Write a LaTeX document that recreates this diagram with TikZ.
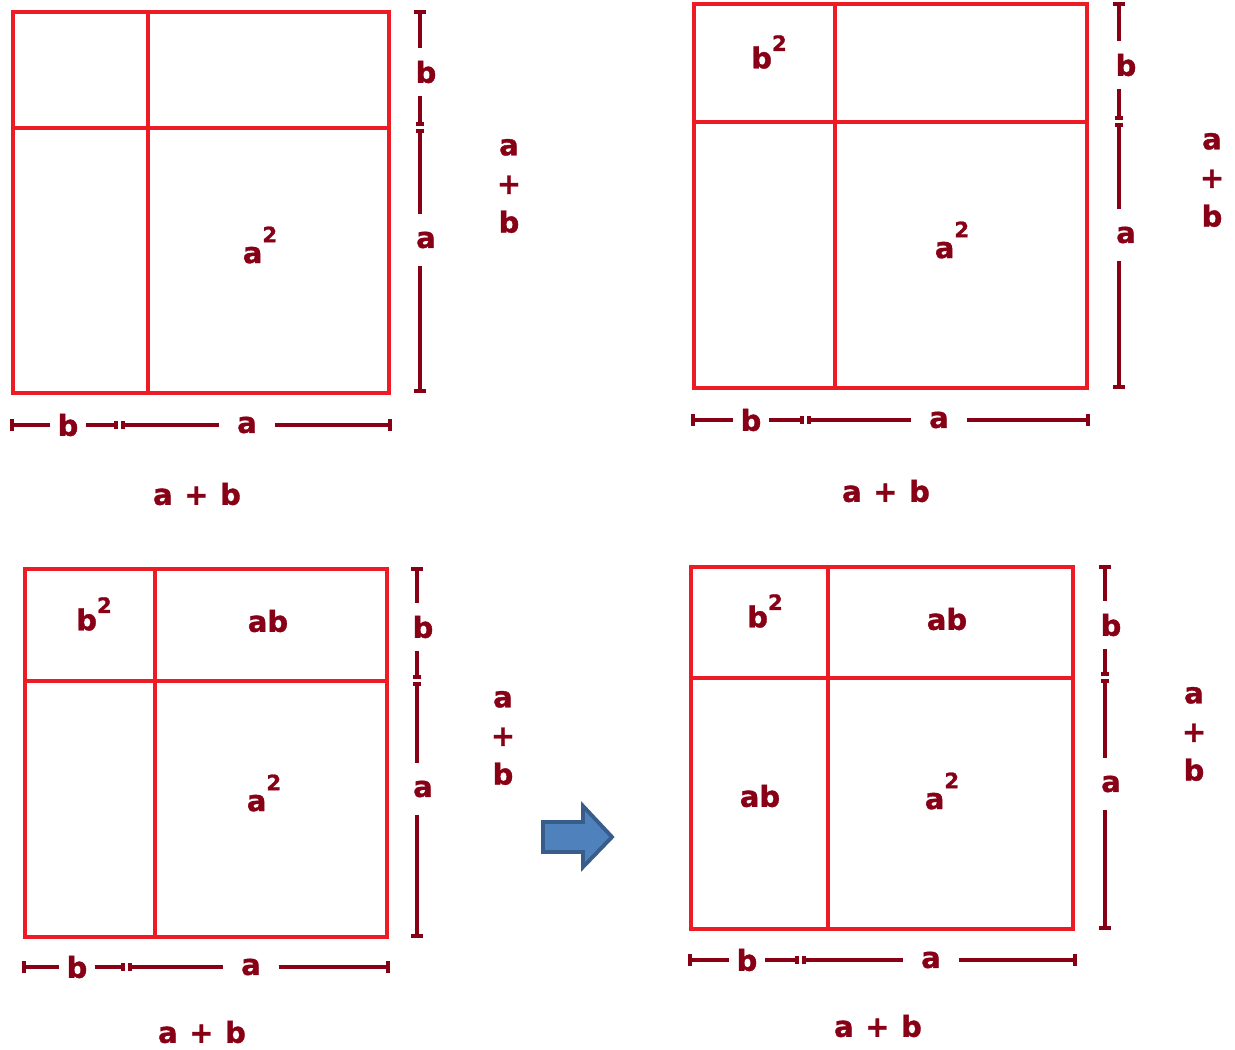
\documentclass[tikz,border=0pt]{standalone}
\usepackage{fontspec}
\setmainfont{DejaVu Sans}[BoldFeatures={FakeBold=1.2}]
\usetikzlibrary{arrows.meta}
\definecolor{sqred}{HTML}{ED1C24}
\definecolor{lblred}{HTML}{880015}
\definecolor{arrfill}{HTML}{4F81BD}
\definecolor{arrdraw}{HTML}{385D8A}
\newcommand{\lblfont}{\fontsize{16.5}{22}\selectfont\bfseries}
\newcommand{\sqlab}[2]{#1\raisebox{#2}{\fontsize{12}{12}\selectfont 2}}
\newcommand{\sumgap}{\hspace{0.4em}}
\tikzset{
  sqline/.style={draw=sqred, line width=2.2pt},
  dimline/.style={draw=lblred, line width=2pt},
  lbl/.style={text=lblred, font=\lblfont, inner sep=4pt, align=center},
  endcap/.tip={Bar[width=7pt]},
  midcap/.tip={Bar[width=5pt]}
}

\begin{document}
\begin{tikzpicture}[x=0.02cm, y=-0.02cm]
\useasboundingbox (0,0) rectangle (1235,1050);

% panel 1 (top left)
\draw[sqline] (13,12) rectangle (389,393);
\draw[sqline] (148,12) -- (148,393);
\draw[sqline] (13,128) -- (389,128);
\node[lbl] (p1aa) at (260,245) {\sqlab{a}{0.72em}};
\coordinate (p1rt) at (420,10);
\coordinate (p1rm1) at (420,126);
\coordinate (p1rm2) at (420,129);
\coordinate (p1rb) at (420,393);
\node[lbl, inner ysep=7pt] (p1rlb) at (426,72) {b};
\node[lbl, inner ysep=10pt] (p1rla) at (426,240) {a};
\draw[dimline, endcap-] (p1rt) -- (p1rt |- p1rlb.north);
\draw[dimline, -midcap] (p1rt |- p1rlb.south) -- (p1rm1);
\draw[dimline, midcap-] (p1rm2) -- (p1rt |- p1rla.north);
\draw[dimline, -endcap] (p1rt |- p1rla.south) -- (p1rb);
\coordinate (p1bl) at (10,425);
\coordinate (p1bm1) at (118,425);
\coordinate (p1bm2) at (121,425);
\coordinate (p1br) at (392,425);
\node[lbl] (p1blb) at (68,425) {b};
\node[lbl, inner xsep=10pt] (p1bla) at (247,425) {a};
\draw[dimline, endcap-] (p1bl) -- (p1blb);
\draw[dimline, -midcap] (p1blb) -- (p1bm1);
\draw[dimline, midcap-] (p1bm2) -- (p1bla);
\draw[dimline, -endcap] (p1bla) -- (p1br);
\node[lbl] (p1sum) at (197,494) {a\sumgap+\sumgap b};
\node[lbl] (p1side) at (509,186) {a\\+\\b};

% panel 2 (top right)
\draw[sqline] (694,4) rectangle (1087,388);
\draw[sqline] (835,4) -- (835,388);
\draw[sqline] (694,122) -- (1087,122);
\node[lbl] (p2bb) at (769,52) {\sqlab{b}{0.6em}};
\node[lbl] (p2aa) at (952,240) {\sqlab{a}{0.72em}};
\coordinate (p2rt) at (1119,2);
\coordinate (p2rm1) at (1119,120);
\coordinate (p2rm2) at (1119,123);
\coordinate (p2rb) at (1119,389);
\node[lbl, inner ysep=7pt] (p2rlb) at (1126,65) {b};
\node[lbl, inner ysep=10pt] (p2rla) at (1126,235) {a};
\draw[dimline, endcap-] (p2rt) -- (p2rt |- p2rlb.north);
\draw[dimline, -midcap] (p2rt |- p2rlb.south) -- (p2rm1);
\draw[dimline, midcap-] (p2rm2) -- (p2rt |- p2rla.north);
\draw[dimline, -endcap] (p2rt |- p2rla.south) -- (p2rb);
\coordinate (p2bl) at (691,420);
\coordinate (p2bm1) at (804,420);
\coordinate (p2bm2) at (807,420);
\coordinate (p2br) at (1090,420);
\node[lbl] (p2blb) at (751,420) {b};
\node[lbl, inner xsep=10pt] (p2bla) at (939,420) {a};
\draw[dimline, endcap-] (p2bl) -- (p2blb);
\draw[dimline, -midcap] (p2blb) -- (p2bm1);
\draw[dimline, midcap-] (p2bm2) -- (p2bla);
\draw[dimline, -endcap] (p2bla) -- (p2br);
\node[lbl] (p2sum) at (886,491) {a\sumgap+\sumgap b};
\node[lbl] (p2side) at (1212,180) {a\\+\\b};

% panel 3 (bottom left)
\draw[sqline] (25,569) rectangle (387,937);
\draw[sqline] (155,569) -- (155,937);
\draw[sqline] (25,681) -- (387,681);
\node[lbl] (p3bb) at (94,614) {\sqlab{b}{0.6em}};
\node[lbl] (p3ab) at (268,621) {ab};
\node[lbl] (p3aa) at (264,793) {\sqlab{a}{0.72em}};
\coordinate (p3rt) at (417,567);
\coordinate (p3rm1) at (417,679);
\coordinate (p3rm2) at (417,682);
\coordinate (p3rb) at (417,938);
\node[lbl, inner ysep=7pt] (p3rlb) at (423,627) {b};
\node[lbl, inner ysep=10pt] (p3rla) at (423,789) {a};
\draw[dimline, endcap-] (p3rt) -- (p3rt |- p3rlb.north);
\draw[dimline, -midcap] (p3rt |- p3rlb.south) -- (p3rm1);
\draw[dimline, midcap-] (p3rm2) -- (p3rt |- p3rla.north);
\draw[dimline, -endcap] (p3rt |- p3rla.south) -- (p3rb);
\coordinate (p3bl) at (22,967);
\coordinate (p3bm1) at (125,967);
\coordinate (p3bm2) at (128,967);
\coordinate (p3br) at (390,967);
\node[lbl] (p3blb) at (77,967) {b};
\node[lbl, inner xsep=10pt] (p3bla) at (251,967) {a};
\draw[dimline, endcap-] (p3bl) -- (p3blb);
\draw[dimline, -midcap] (p3blb) -- (p3bm1);
\draw[dimline, midcap-] (p3bm2) -- (p3bla);
\draw[dimline, -endcap] (p3bla) -- (p3br);
\node[lbl] (p3sum) at (202,1032) {a\sumgap+\sumgap b};
\node[lbl] (p3side) at (503,738) {a\\+\\b};

% arrow between the lower panels
\draw[fill=arrfill, draw=arrdraw, line width=2.2pt, line join=miter]
  (543,822) -- (583,822) -- (583,806) -- (612,837) -- (583,867) -- (583,852) -- (543,852) -- cycle;

% panel 4 (bottom right)
\draw[sqline] (691,567) rectangle (1073,929);
\draw[sqline] (828,567) -- (828,929);
\draw[sqline] (691,678) -- (1073,678);
\node[lbl] (p4bb) at (765,611) {\sqlab{b}{0.6em}};
\node[lbl] (p4ab1) at (947,619) {ab};
\node[lbl] (p4ab2) at (760,796) {ab};
\node[lbl] (p4aa) at (942,791) {\sqlab{a}{0.72em}};
\coordinate (p4rt) at (1105,565);
\coordinate (p4rm1) at (1105,676);
\coordinate (p4rm2) at (1105,679);
\coordinate (p4rb) at (1105,930);
\node[lbl, inner ysep=7pt] (p4rlb) at (1111,625) {b};
\node[lbl, inner ysep=10pt] (p4rla) at (1111,784) {a};
\draw[dimline, endcap-] (p4rt) -- (p4rt |- p4rlb.north);
\draw[dimline, -midcap] (p4rt |- p4rlb.south) -- (p4rm1);
\draw[dimline, midcap-] (p4rm2) -- (p4rt |- p4rla.north);
\draw[dimline, -endcap] (p4rt |- p4rla.south) -- (p4rb);
\coordinate (p4bl) at (688,960);
\coordinate (p4bm1) at (799,960);
\coordinate (p4bm2) at (802,960);
\coordinate (p4br) at (1077,960);
\node[lbl] (p4blb) at (747,960) {b};
\node[lbl, inner xsep=10pt] (p4bla) at (931,960) {a};
\draw[dimline, endcap-] (p4bl) -- (p4blb);
\draw[dimline, -midcap] (p4blb) -- (p4bm1);
\draw[dimline, midcap-] (p4bm2) -- (p4bla);
\draw[dimline, -endcap] (p4bla) -- (p4br);
\node[lbl] (p4sum) at (878,1026) {a\sumgap+\sumgap b};
\node[lbl] (p4side) at (1194,734) {a\\+\\b};
\end{tikzpicture}
\end{document}
